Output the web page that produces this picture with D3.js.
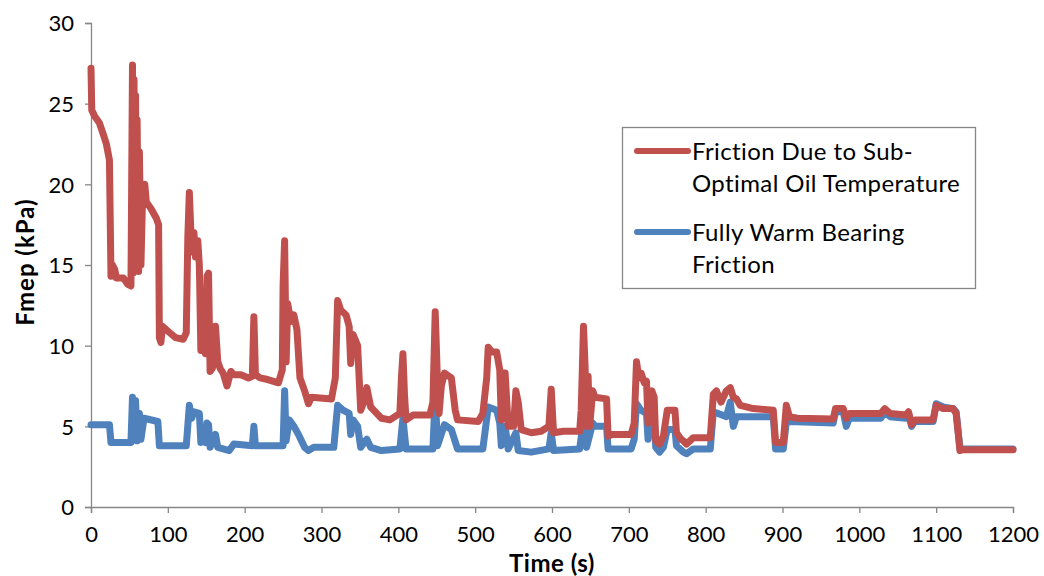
<!DOCTYPE html>
<html>
<head>
<meta charset="utf-8">
<script src="https://cdn.jsdelivr.net/npm/d3@7"></script>
<style>
  html, body { margin: 0; padding: 0; background: #fff; }
  svg { display: block; font-family: Lato, "Open Sans", sans-serif; }
</style>
</head>
<body>
<div id="chart"></div>
<script>
// time (s), Fmep (kPa)
const subOptimal = [
  [0, 27.2], [1, 24.6], [5, 24.2], [11, 23.8], [16, 23.1], [20, 22.5], [24, 21.5], [26, 14.3],
  [28, 15.0], [31, 14.7], [33, 14.2], [42, 14.2], [48, 13.8], [52, 13.7], [54, 27.4], [55, 14.5],
  [56, 26.5], [57, 15], [58, 25.5], [59, 14.8], [60, 24], [62, 14.6], [63, 22], [65, 15],
  [67, 19], [70, 20], [72, 18.9], [78, 18.5], [85, 17.9], [88, 17.5], [89, 10.5], [91, 10.2],
  [93, 11.2], [100, 10.9], [110, 10.5], [120, 10.4], [124, 10.8], [126, 16.7], [128, 19.5], [131, 15.8],
  [134, 17], [136, 15.5], [139, 16.5], [141, 15], [143, 9.7], [146, 10.5], [149, 9.5], [151, 14.3],
  [153, 14.5], [155, 8.4], [158, 8.6], [162, 11.2], [165, 9], [168, 8.6], [172, 8.3], [177, 7.5],
  [182, 8.4], [186, 8.2], [195, 8.2], [205, 8], [210, 8.1], [212, 11.8], [214, 8.2], [220, 8.0],
  [230, 7.9], [244, 7.7], [249, 8.5], [250, 13.7], [252, 16.5], [254, 9], [256, 12.6], [260, 11.5],
  [264, 11.9], [268, 11], [272, 8], [278, 7.2], [283, 6.4], [287, 6.8], [313, 6.7], [318, 8],
  [321, 12.8], [325, 12.2], [332, 11.9], [336, 11.2], [338, 8.9], [341, 10.7], [347, 10], [351, 6],
  [355, 6.5], [359, 7.4], [364, 6.2], [370, 5.9], [378, 5.5], [389, 5.4], [402, 5.8], [404, 8],
  [406, 9.5], [408, 7], [410, 5.4], [419, 5.7], [441, 5.7], [445, 6.5], [448, 12.1], [451, 7.7],
  [453, 5.8], [456, 7.5], [460, 8.3], [469, 8.0], [474, 6], [477, 5.4], [504, 5.3], [510, 5.8],
  [515, 8], [517, 9.9], [522, 9.6], [528, 9.6], [532, 8.5], [534, 5.4], [536, 8.3], [539, 8.3],
  [543, 5.0], [550, 5.0], [553, 7.2], [556, 6.5], [560, 4.8], [573, 4.6], [586, 4.7], [596, 5],
  [599, 7.3], [602, 4.6], [615, 4.7], [636, 4.7], [638, 6], [641, 11.2], [643, 8.8], [645, 5],
  [647, 8.1], [649, 5], [653, 7.2], [656, 6.8], [671, 6.7], [673, 4.4], [679, 4.5], [703, 4.5],
  [707, 5.2], [710, 9.0], [713, 8.0], [716, 8.3], [720, 7.7], [723, 7.8], [725, 5.2], [727, 7.0],
  [730, 7.2], [733, 6.8], [735, 4.1], [740, 3.9], [745, 4.4], [750, 6.0], [760, 6.0], [762, 4.6],
  [768, 4.2], [771, 4.1], [775, 3.9], [784, 4.3], [806, 4.3], [810, 7.0], [814, 7.2], [820, 6.5],
  [827, 7.2], [832, 7.4], [836, 6.8], [840, 6.7], [845, 6.3], [862, 6.1], [888, 6.0], [891, 4.0],
  [901, 4.0], [905, 6.3], [909, 5.6], [919, 5.5], [966, 5.45], [969, 6.1], [979, 6.1], [983, 5.5],
  [987, 5.8], [1028, 5.8], [1033, 6.1], [1040, 5.8], [1061, 5.7], [1064, 5.9], [1068, 5.1], [1072, 5.4],
  [1096, 5.4], [1100, 6.3], [1109, 6.1], [1122, 6.1], [1126, 5.8], [1131, 3.5], [1135, 3.55], [1200, 3.55],
];

const fullyWarm = [
  [0, 5.1], [24, 5.1], [26, 4.0], [52, 4.0], [54, 6.8], [56, 4.2], [58, 6.6], [60, 4.1],
  [63, 5.8], [65, 4.2], [69, 5.5], [87, 5.3], [89, 3.8], [124, 3.8], [128, 6.3], [131, 5.5],
  [134, 5.9], [141, 5.8], [143, 4.0], [146, 4.2], [149, 4.0], [151, 5.2], [153, 5.1], [155, 3.7],
  [162, 4.5], [165, 3.7], [180, 3.5], [186, 3.9], [210, 3.8], [212, 5.0], [214, 3.8], [250, 3.8],
  [252, 7.2], [254, 4.1], [258, 5.4], [264, 5.0], [270, 4.5], [278, 3.7], [283, 3.5], [290, 3.7],
  [316, 3.7], [321, 6.3], [328, 6.0], [336, 5.8], [338, 4.5], [341, 5.4], [347, 5.0], [351, 3.7],
  [359, 4.2], [364, 3.7], [378, 3.5], [402, 3.6], [406, 5.5], [410, 3.6], [445, 3.6], [448, 7.0],
  [451, 3.8], [460, 5.1], [469, 4.8], [477, 3.6], [510, 3.6], [517, 6.2], [528, 6.0], [532, 5.2],
  [534, 3.8], [539, 5.0], [543, 3.6], [553, 4.6], [556, 3.5], [573, 3.4], [596, 3.6], [599, 4.6],
  [602, 3.5], [636, 3.6], [639, 4.7], [641, 5.4], [645, 3.7], [653, 5.2], [656, 5.0], [671, 5.0],
  [673, 3.6], [703, 3.6], [707, 4.2], [710, 6.4], [716, 6.0], [723, 5.8], [725, 4.2], [730, 6.0],
  [733, 5.5], [735, 3.7], [740, 3.4], [745, 3.7], [750, 4.8], [760, 4.8], [762, 3.8], [771, 3.4],
  [775, 3.3], [784, 3.6], [806, 3.6], [810, 5.9], [827, 5.6], [832, 6.5], [836, 5.0], [840, 5.6],
  [888, 5.6], [891, 3.6], [901, 3.6], [905, 5.3], [909, 5.3], [966, 5.2], [969, 5.9], [979, 5.9],
  [983, 5.0], [987, 5.5], [1028, 5.5], [1033, 5.9], [1040, 5.6], [1061, 5.5], [1064, 5.8], [1068, 5.0],
  [1072, 5.3], [1096, 5.3], [1100, 6.4], [1109, 6.2], [1122, 6.1], [1126, 5.9], [1131, 3.6], [1135, 3.6],
  [1200, 3.6],
];

const xTicks = [0, 100, 200, 300, 400, 500, 600, 700, 800, 900, 1000, 1100, 1200];
const yTicks = [0, 5, 10, 15, 20, 25, 30];
const seriesNames = ['Friction Due to Sub-|Optimal Oil Temperature', 'Fully Warm Bearing|Friction'];
const seriesColors = ['#C0504D', '#4F81BD'];

const width = 1044, height = 576;
const margin = { top: 23, right: 31, bottom: 69, left: 91 };
const axisColor = '#868686';

const svg = d3.select('#chart').append('svg')
  .attr('width', width).attr('height', height);

const x = d3.scaleLinear().domain([0, 1200]).range([margin.left, width - margin.right]);
const y = d3.scaleLinear().domain([0, 30]).range([height - margin.bottom, margin.top]);

// axes
const xAxis = svg.append('g')
  .attr('transform', `translate(0,${y(0)})`)
  .call(d3.axisBottom(x).tickValues(xTicks).tickSize(6).tickPadding(10).tickFormat(d3.format('d')));
const yAxis = svg.append('g')
  .attr('transform', `translate(${x(0)},0)`)
  .call(d3.axisLeft(y).tickValues(yTicks).tickSize(6).tickPadding(11).tickFormat(d3.format('d')));

[xAxis, yAxis].forEach(a => {
  a.select('.domain').attr('stroke', axisColor).attr('stroke-width', 1.3);
  a.selectAll('.tick line').attr('stroke', axisColor).attr('stroke-width', 1.3);
  a.selectAll('.tick text').attr('fill', '#000').attr('font-size', 22)
    .attr('font-family', 'Lato, "Open Sans", sans-serif');
});
xAxis.selectAll('.tick text').attr('dy', '0.85em');
yAxis.selectAll('.tick text').attr('dy', '0.35em');

// axis titles
svg.append('text')
  .attr('x', 552).attr('y', 572)
  .attr('text-anchor', 'middle').attr('font-size', 24).attr('font-weight', 700)
  .attr('letter-spacing', 0.5)
  .text('Time (s)');
svg.append('text')
  .attr('transform', `translate(34,${y(15) - 3}) rotate(-90)`)
  .attr('text-anchor', 'middle').attr('font-size', 24).attr('font-weight', 700)
  .attr('letter-spacing', 1)
  .text('Fmep (kPa)');

// lines: blue underneath, red on top
const line = d3.line().x(d => x(d[0])).y(d => y(d[1]));
[fullyWarm, subOptimal].forEach((data, i) => {
  svg.append('path')
    .datum(data)
    .attr('d', line)
    .attr('fill', 'none')
    .attr('stroke', seriesColors[1 - i])
    .attr('stroke-width', 7)
    .attr('stroke-linejoin', 'round')
    .attr('stroke-linecap', 'round');
});

// legend
const legend = svg.append('g');
legend.append('rect')
  .attr('x', 622.5).attr('y', 127.5).attr('width', 353).attr('height', 161)
  .attr('fill', '#fff').attr('stroke', axisColor).attr('stroke-width', 1.3);

seriesNames.forEach((name, i) => {
  const top = 151 + i * 81;
  legend.append('line')
    .attr('x1', 637).attr('x2', 688).attr('y1', top).attr('y2', top)
    .attr('stroke', seriesColors[i]).attr('stroke-width', 6).attr('stroke-linecap', 'round');
  name.split('|').forEach((part, j) => {
    legend.append('text')
      .attr('x', 692).attr('y', top + 9 + j * 32)
      .attr('font-size', 24).attr('letter-spacing', 0.4).attr('fill', '#000')
      .text(part);
  });
});
</script>
</body>
</html>
